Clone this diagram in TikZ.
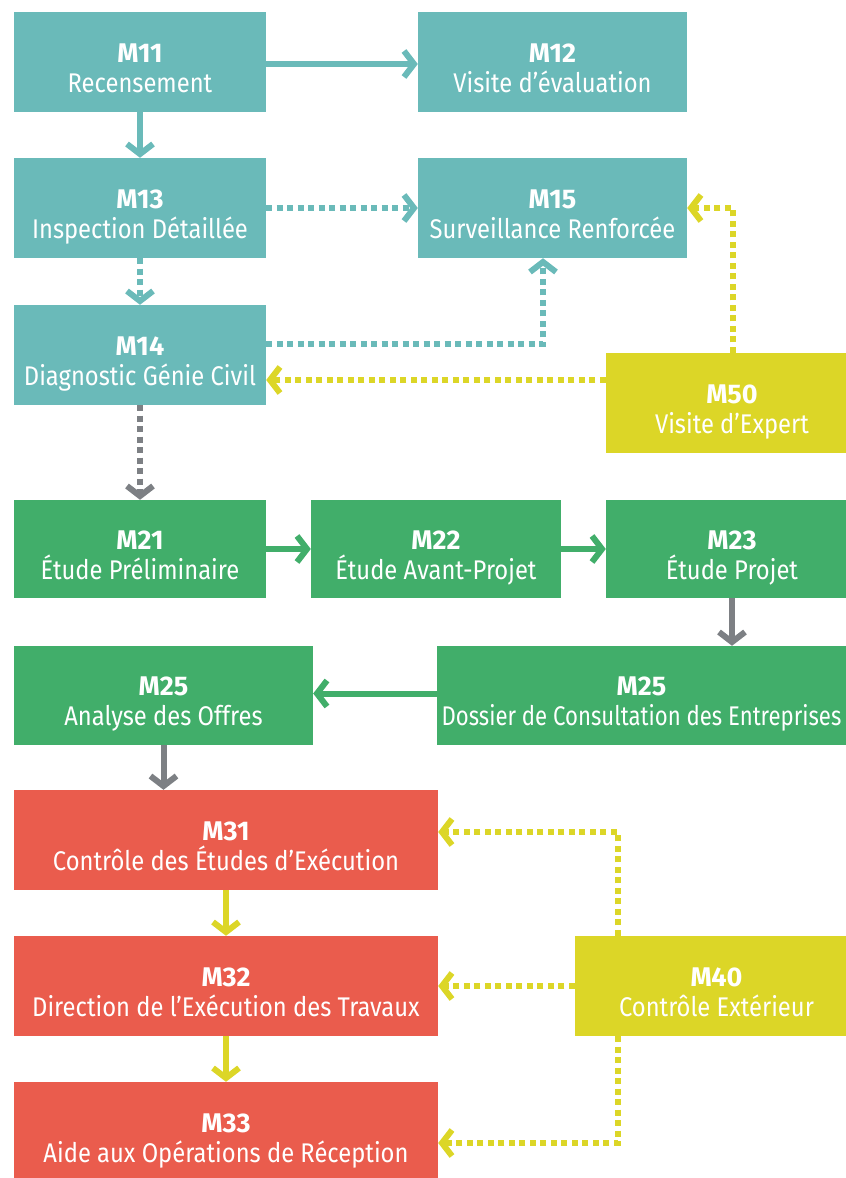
\documentclass[tikz,border=0pt]{standalone}
\usepackage{fontspec}
\setmainfont{Fira Sans}[FakeStretch=0.88]
\newfontfamily\mlabelfont{Fira Sans}
\newfontfamily\narrowfont{Fira Sans}[FakeStretch=0.82]
\usetikzlibrary{arrows.meta}
\definecolor{tealc}{HTML}{6ABAB9}
\definecolor{greenc}{HTML}{41AE6A}
\definecolor{redc}{HTML}{EA5C4D}
\definecolor{yellowc}{HTML}{DCD627}
\definecolor{grayc}{HTML}{7D8084}
\tikzset{
  box/.style={rectangle, inner sep=0pt, text=white, align=center,
    font=\fontsize{27}{30}\selectfont},
  tealbox/.style={box, fill=tealc},
  greenbox/.style={box, fill=greenc},
  redbox/.style={box, fill=redc},
  yellowbox/.style={box, fill=yellowc},
  conn/.style={line width=6pt, -{Straight Barb[length=10pt,width=26pt]}},
  dotconn/.style={conn, dash pattern=on 6pt off 4.5pt},
}
\newcommand{\lbl}[2]{\rule{0pt}{37pt}{\mlabelfont\bfseries #1}\\#2\rule[-7pt]{0pt}{7pt}}
\begin{document}
\begin{tikzpicture}[x=1pt,y=-1pt]
\useasboundingbox (0,0) rectangle (846,1178);
\clip (0,0) rectangle (846,1178);
% nodes
\node[tealbox, minimum width=252, minimum height=100] (m11) at (140,62) {\lbl{M11}{Recensement}};
\node[tealbox, minimum width=269, minimum height=100] (m12) at (552.5,62) {\lbl{M12}{Visite d’évaluation}};
\node[tealbox, minimum width=252, minimum height=100] (m13) at (140,208) {\lbl{M13}{Inspection Détaillée}};
\node[tealbox, minimum width=269, minimum height=100] (m15) at (552.5,208) {\lbl{M15}{Surveillance Renforcée}};
\node[tealbox, minimum width=252, minimum height=100] (m14) at (140,355) {\lbl{M14}{Diagnostic Génie Civil}};
\node[yellowbox, minimum width=252, minimum height=100] (m50) at (732,403) {\lbl{M50}{Visite d’Expert}};
\node[greenbox, minimum width=252, minimum height=98] (m21) at (140,549) {\lbl{M21}{Étude Préliminaire}};
\node[greenbox, minimum width=250, minimum height=98] (m22) at (436,549) {\lbl{M22}{Étude Avant-Projet}};
\node[greenbox, minimum width=252, minimum height=98] (m23) at (732,549) {\lbl{M23}{Étude Projet}};
\node[greenbox, minimum width=299, minimum height=99] (m25a) at (163.5,695.5) {\lbl{M25}{Analyse des Offres}};
\node[greenbox, minimum width=409, minimum height=99] (m25d) at (641.5,695.5) {\lbl{M25}{\narrowfont Dossier de Consultation des Entreprises}};
\node[redbox, minimum width=424, minimum height=100] (m31) at (226,840) {\lbl{M31}{Contrôle des Études d’Exécution}};
\node[redbox, minimum width=424, minimum height=100] (m32) at (226,986) {\lbl{M32}{Direction de l’Exécution des Travaux}};
\node[redbox, minimum width=424, minimum height=100] (m33) at (226,1132) {\lbl{M33}{Aide aux Opérations de Réception}};
\node[yellowbox, minimum width=283, minimum height=100] (m40) at (716.5,986) {\lbl{M40}{Contrôle Extérieur}};
% connectors
\draw[conn, tealc] ([yshift=-2pt]m11.east) -- ([yshift=-2pt]m12.west);
\draw[conn, tealc] (m11.south) -- (m13.north);
\draw[dotconn, tealc] (m13.east) -- (m15.west);
\draw[dotconn, tealc] (m13.south) -- (m14.north);
\draw[dotconn, tealc] ([yshift=11pt]m14.east) -| ([xshift=-9.5pt]m15.south);
\draw[dotconn, yellowc] ([yshift=23pt]m50.west) -- ([yshift=-25pt]m14.east);
\draw[dotconn, yellowc] ([xshift=1pt]m50.north) |- (m15.east);
\draw[dotconn, grayc] (m14.south) -- (m21.north);
\draw[conn, greenc] (m21.east) -- (m22.west);
\draw[conn, greenc] (m22.east) -- (m23.west);
\draw[conn, grayc] (m23.south) -- (m23.south |- m25d.north);
\draw[conn, greenc] ([yshift=2pt]m25d.west) -- ([yshift=2pt]m25a.east);
\draw[conn, grayc] (m25a.south) -- (m25a.south |- m31.north);
\draw[conn, yellowc] (m31.south) -- (m32.north);
\draw[conn, yellowc] (m32.south) -- (m33.north);
\draw[dotconn, yellowc] ([xshift=-98.5pt]m40.north) |- ([yshift=8pt]m31.east);
\draw[dotconn, yellowc] (m40.west) -- (m32.east);
\draw[dotconn, yellowc] ([xshift=-98.5pt]m40.south) |- ([yshift=-11pt]m33.east);
\end{tikzpicture}
\end{document}
